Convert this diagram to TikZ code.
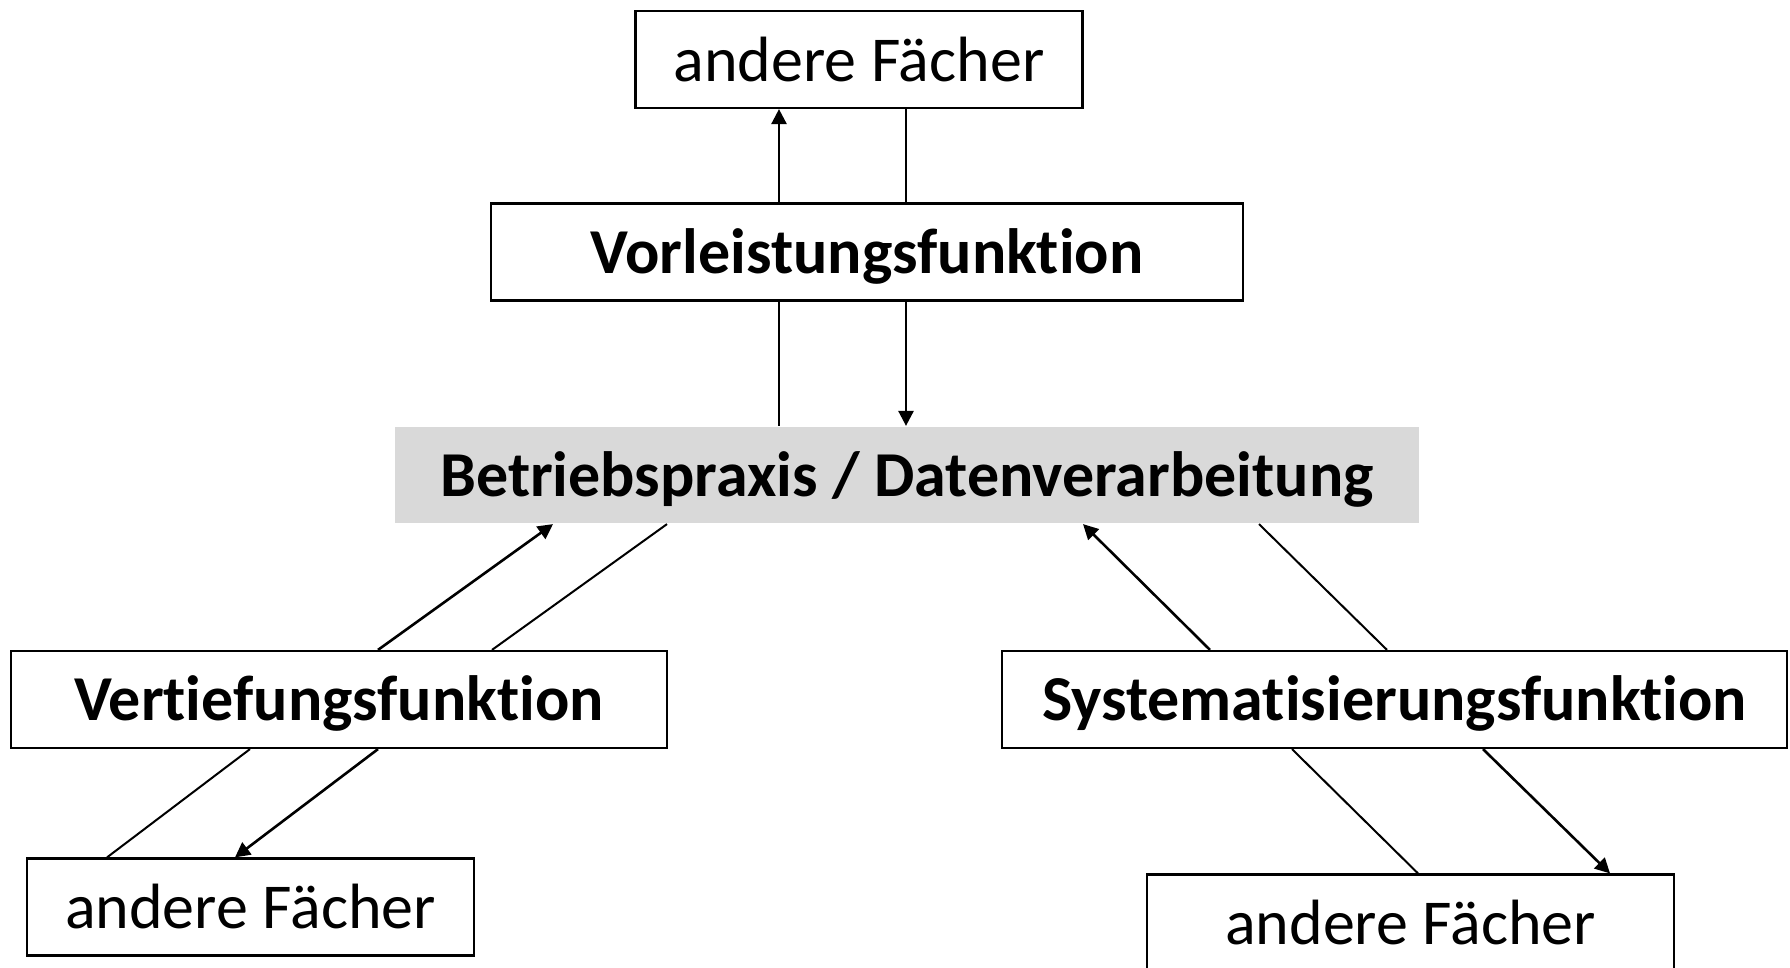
\documentclass[tikz,border=0pt]{standalone}
\usepackage{fontspec}
\setmainfont[Ligatures=NoCommon]{Carlito}
\usetikzlibrary{positioning,arrows.meta}
\definecolor{praxis}{RGB}{217,217,217}

\begin{document}
\begin{tikzpicture}[x=1pt, y=-1pt,
  box/.style={draw, line width=2.2pt, inner sep=0pt, align=center},
  fach/.style={box, font=\fontsize{64}{76}\selectfont, minimum width=447pt, minimum height=97pt},
  funk/.style={box, font=\fontsize{64}{76}\selectfont\bfseries, text height=50pt, text depth=8pt, minimum height=97pt},
  pfeil/.style={line width=2.6pt, -{Triangle[length=15pt,width=15pt]}},
  linie/.style={line width=2pt}]
  \useasboundingbox (0,0) rectangle (1790,968);
  % Kaestchen
  \node[fach] (oben) at (859,59.5) {andere Fächer};
  \node[funk, minimum width=752pt] (vorl) at (867,252) {Vorleistungsfunktion};
  \node[funk, draw=none, fill=praxis, minimum width=1024pt, minimum height=96pt] (praxis) at (907,475) {Betriebspraxis / Datenverarbeitung};
  \node[funk, minimum width=656pt] (vert) at (339,699.5) {Vertiefungsfunktion};
  \node[funk, minimum width=785pt] (syst) at (1394.5,699.5) {Systematisierungsfunktion};
  \node[fach] (links) at (250.5,907) {andere Fächer};
  \node[fach, minimum width=527pt] (rechts) at (1410.5,923) {andere Fächer};
  % oben
  \draw[pfeil] ([xshift=-88pt]vorl.north) -- ([xshift=-88pt]vorl.north |- oben.south);
  \draw[linie] ([xshift=47pt]oben.south) -- ([xshift=47pt]oben.south |- vorl.north);
  \draw[linie] ([xshift=-88pt]vorl.south) -- ([xshift=-88pt]vorl.south |- praxis.north);
  \draw[pfeil] ([xshift=39pt]vorl.south) -- ([xshift=39pt]vorl.south |- praxis.north);
  % links
  \draw[pfeil] ([xshift=39pt]vert.north) -- ([xshift=-354pt]praxis.south);
  \draw[linie] ([xshift=-240pt]praxis.south) -- ([xshift=153pt]vert.north);
  \draw[linie] ([xshift=-89pt]vert.south) -- ([xshift=-143.5pt]links.north);
  \draw[pfeil] ([xshift=39pt]vert.south) -- ([xshift=-15.5pt]links.north);
  % rechts
  \draw[pfeil] ([xshift=-184.5pt]syst.north) -- ([xshift=176pt]praxis.south);
  \draw[linie] ([xshift=352pt]praxis.south) -- ([xshift=-7.5pt]syst.north);
  \draw[linie] ([xshift=-102.5pt]syst.south) -- ([xshift=7.5pt]rechts.north);
  \draw[pfeil] ([xshift=88.5pt]syst.south) -- ([xshift=199.5pt]rechts.north);
\end{tikzpicture}
\end{document}
